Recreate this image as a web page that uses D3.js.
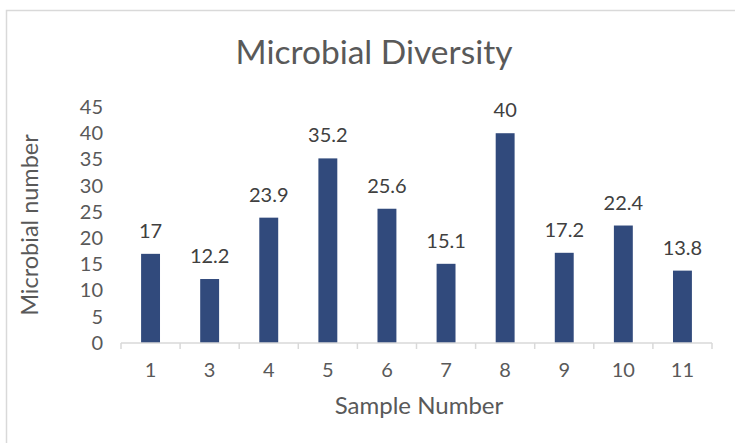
<!DOCTYPE html>
<html>
<head>
<meta charset="utf-8">
<script src="https://cdn.jsdelivr.net/npm/d3@7"></script>
<style>
  html, body { margin: 0; padding: 0; background: #ffffff; }
  svg { display: block; }
  text { font-family: Lato, "Open Sans", sans-serif; }
</style>
</head>
<body>
<svg id="chart" width="735" height="443"></svg>
<script>
const categories = ["1", "3", "4", "5", "6", "7", "8", "9", "10", "11"];
const values = [17, 12.2, 23.9, 35.2, 25.6, 15.1, 40, 17.2, 22.4, 13.8];
const yTicks = [0, 5, 10, 15, 20, 25, 30, 35, 40, 45];
const titleText = "Microbial Diversity";
const xTitle = "Sample Number";
const yTitle = "Microbial number";

const svg = d3.select("#chart");
const W = 735, H = 443;
const margin = { left: 121, right: W - 712, top: 107, bottom: H - 343 };
const FONT = "Lato, 'Open Sans', sans-serif";

// outer chart frame (only top & left visible)
svg.append("rect")
  .attr("x", 6.5).attr("y", 10.5)
  .attr("width", W + 20).attr("height", H + 20)
  .attr("fill", "#fff").attr("stroke", "#d9d9d9").attr("stroke-width", 1.5);

const x = d3.scaleBand().domain(categories)
  .range([margin.left, W - margin.right]).paddingInner(0.68).paddingOuter(0.34);
const y = d3.scaleLinear().domain([0, 45]).range([H - margin.bottom, margin.top]);

// bars
svg.append("g").selectAll("rect").data(values).join("rect")
  .attr("x", (d, i) => x(categories[i]))
  .attr("width", x.bandwidth())
  .attr("y", d => y(d))
  .attr("height", d => y(0) - y(d))
  .attr("fill", "#314a7c");

// data labels
svg.append("g").selectAll("text").data(values).join("text")
  .attr("x", (d, i) => x(categories[i]) + x.bandwidth() / 2)
  .attr("y", d => y(d) - 16)
  .attr("text-anchor", "middle")
  .attr("font-size", 20)
  .attr("fill", "#404040")
  .text(d => d);

// x axis with boundary ticks
const xAxisG = svg.append("g").attr("transform", `translate(0,${y(0)})`);
const step = x.step();
const bounds = d3.range(categories.length + 1).map(i => margin.left + i * step);
xAxisG.append("line")
  .attr("x1", margin.left).attr("x2", W - margin.right)
  .attr("y1", 0).attr("y2", 0)
  .attr("stroke", "#d9d9d9").attr("stroke-width", 1.5);
xAxisG.selectAll("line.tk").data(bounds).join("line").attr("class", "tk")
  .attr("x1", d => d).attr("x2", d => d)
  .attr("y1", 0).attr("y2", 6)
  .attr("stroke", "#d9d9d9").attr("stroke-width", 1.5);
const xAxis = d3.axisBottom(x).tickSize(0).tickPadding(20);
const xa = svg.append("g").attr("transform", `translate(0,${y(0)})`).call(xAxis);
xa.select(".domain").remove();
xa.selectAll("text").attr("font-size", 20).attr("fill", "#595959")
  .style("font-family", FONT);

// y axis
const yAxis = d3.axisLeft(y).tickValues(yTicks).tickSize(0).tickPadding(18);
const ya = svg.append("g").attr("transform", `translate(${margin.left},0)`).call(yAxis);
ya.select(".domain").remove();
ya.selectAll("text").attr("font-size", 20).attr("fill", "#595959")
  .style("font-family", FONT);

// titles
svg.append("text")
  .attr("x", 374).attr("y", 64)
  .attr("text-anchor", "middle")
  .attr("font-size", 33.5)
  .attr("fill", "#595959")
  .text(titleText);

svg.append("text")
  .attr("x", 419).attr("y", 414)
  .attr("text-anchor", "middle")
  .attr("font-size", 24)
  .attr("fill", "#595959")
  .text(xTitle);

svg.append("text")
  .attr("transform", `translate(38,${(y(0) + y(45)) / 2}) rotate(-90)`)
  .attr("text-anchor", "middle")
  .attr("font-size", 23.5)
  .attr("fill", "#595959")
  .text(yTitle);
</script>
</body>
</html>
